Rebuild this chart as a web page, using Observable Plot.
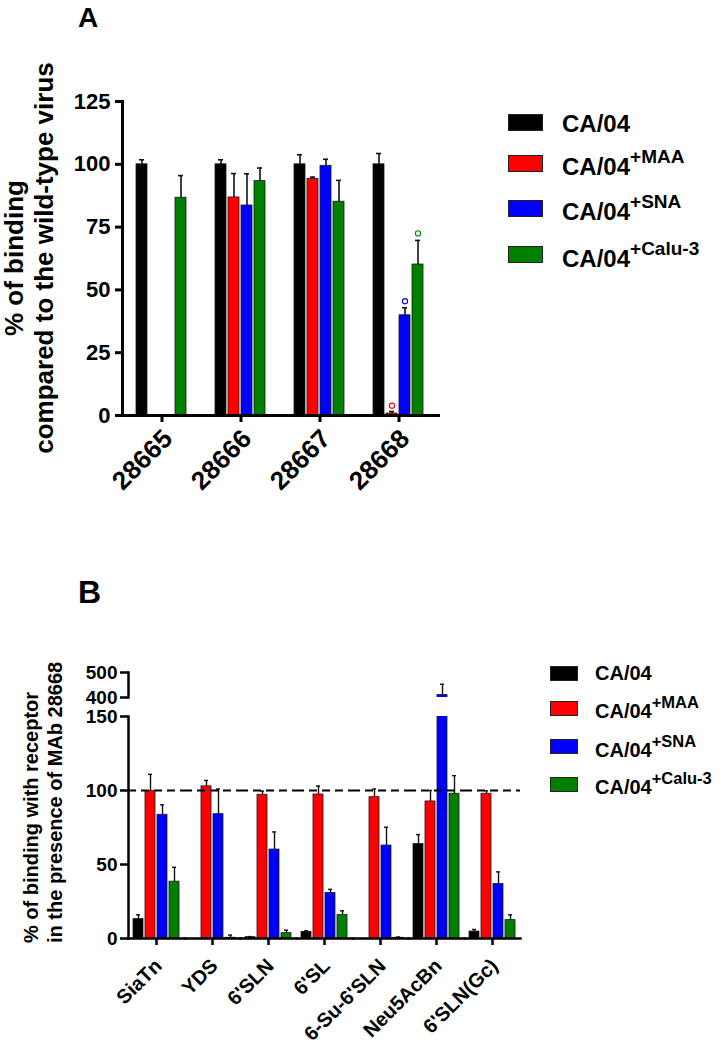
<!DOCTYPE html>
<html><head><meta charset="utf-8">
<script src="https://cdn.jsdelivr.net/npm/d3@7"></script>
<script src="https://cdn.jsdelivr.net/npm/@observablehq/plot@0.6"></script>
<style>
html,body{margin:0;padding:0;background:#fff;}
#fig{position:relative;width:721px;height:1047px;overflow:hidden;font-family:'Liberation Sans',Arial,sans-serif;font-weight:bold;color:#000;background:#fff;}
.letter{position:absolute;line-height:1;white-space:nowrap;}
.ytitle{position:absolute;transform-origin:0 0;transform:rotate(-90deg);white-space:nowrap;}
.sw{position:absolute;box-sizing:border-box;border:1px solid #222;}
.lt{position:absolute;white-space:nowrap;line-height:1;}
.lt sup{position:relative;vertical-align:baseline;}
</style></head>
<body><div id="fig"></div>
<script>
// ---------- shared ----------
const seriesNames = ["CA/04", "CA/04+MAA", "CA/04+SNA", "CA/04+Calu-3"];
const seriesBase = ["CA/04", "CA/04", "CA/04", "CA/04"];
const seriesSup = ["", "+MAA", "+SNA", "+Calu-3"];
const seriesColors = ["#000000", "#ff0000", "#0000ff", "#008000"];

// ---------- panel A ----------
const groupsA = ["28665", "28666", "28667", "28668"];
const ca04A      = [100, 100, 100, 100];
const ca04A_hi   = [101.8, 101.8, 103.8, 104.3];
const maaA       = [null, 86.8, 94.2, 0.8];
const maaA_hi    = [null, 96.3, 94.9, 1.6];
const snaA       = [null, 83.6, 99.4, 39.9];
const snaA_hi    = [null, 96.2, 102, 42.9];
const caluA      = [86.7, 93.3, 85.1, 60.1];
const caluA_hi   = [95.5, 98.5, 93.6, 69.7];
const yTicksA = [0, 25, 50, 75, 100, 125];
// significance markers (open circles)
const markGroupA  = ["28668", "28668", "28668"];
const markSeriesA = ["CA/04+MAA", "CA/04+SNA", "CA/04+Calu-3"];
const markValueA  = [3.9, 45.5, 72.5];

// ---------- panel B ----------
const groupsB = ["SiaTn", "YDS", "6'SLN", "6'SL", "6-Su-6'SLN", "Neu5AcBn", "6'SLN(Gc)"];
const ca04B     = [13.1, 0, 0.9, 4.5, 0, 63.9, 4.7];
const ca04B_hi  = [16, null, 1.3, 5.2, null, 70.2, 6.1];
const maaB      = [99.6, 102.8, 97.1, 97.3, 95.5, 92.6, 97.8];
const maaB_hi   = [110.9, 106.8, 99.6, 103, 101, 100, 99.8];
const snaB      = [83.6, 84, 60.1, 30.7, 62.8, 410, 36.8];
const snaB_hi   = [90.3, 101, 72, 33.2, 75.2, 453, 45];
const caluB     = [38.4, 0.5, 3.6, 16, 0.5, 97.8, 12.4];
const caluB_hi  = [48.1, 2.3, 5.6, 18.7, 1, 110, 16];
const yTicksBLow = [0, 50, 100, 150];
const yTicksBHigh = [400, 500];
const refLineB = [100];

function buildRows(groups, vals, his) {
  const out = [];
  groups.forEach((g, i) => seriesNames.forEach((s, j) => {
    const v = vals[j][i];
    if (v != null) out.push({group: g, series: s, value: v, hi: his[j][i]});
  }));
  return out;
}
const rowsA = buildRows(groupsA, [ca04A, maaA, snaA, caluA], [ca04A_hi, maaA_hi, snaA_hi, caluA_hi]);
const errA = rowsA.filter(d => d.hi != null);
const marksA = markGroupA.map((g, i) => ({group: g, series: markSeriesA[i], value: markValueA[i]}));
const rowsB = buildRows(groupsB, [ca04B, maaB, snaB, caluB], [ca04B_hi, maaB_hi, snaB_hi, caluB_hi]);
const errB = rowsB.filter(d => d.hi != null);

const FONT = "'Liberation Sans', Arial, sans-serif";
const colorScale = {domain: seriesNames, range: seriesColors};
const svgStyle = (fs) => ({fontFamily: FONT, fontWeight: "bold", fontSize: fs + "px", color: "#000", background: "transparent", overflow: "visible"});
const noText = () => "";

const plotA = Plot.plot({
  width: 460, height: 500,
  marginLeft: 122, marginRight: 22, marginTop: 101, marginBottom: 85,
  style: svgStyle(22),
  fx: {domain: groupsA, padding: 0, label: null, axis: null},
  x: {domain: seriesNames, paddingInner: 0.143, paddingOuter: 0.893, axis: null},
  y: {domain: [0, 125], axis: null},
  color: colorScale,
  marks: [
    Plot.barY(rowsA, {fx: "group", x: "series", y: "value", fill: "series", stroke: "#1a1a1a", strokeWidth: 0.8}),
    Plot.ruleX(errA, {fx: "group", x: "series", y1: "value", y2: "hi", stroke: "#111", strokeWidth: 1.6}),
    Plot.tickY(errA, {fx: "group", x: "series", y: "hi", stroke: "#111", strokeWidth: 1.6, inset: 3}),
    Plot.dot(marksA, {fx: "group", x: "series", y: "value", stroke: "series", fill: "white", r: 2.6, strokeWidth: 1.1}),
    Plot.frame({anchor: "bottom", strokeWidth: 3}),
    Plot.frame({anchor: "left", facetAnchor: "left", strokeWidth: 3}),
    Plot.axisY({ticks: yTicksA, tickSize: 7, tickPadding: 5, strokeWidth: 3, label: null, fontSize: 22}),
    Plot.axisFx({anchor: "bottom", tickSize: 7, strokeWidth: 3, label: null, tickFormat: noText}),
    Plot.axisFx({anchor: "bottom", tickSize: 0, tickRotate: -45, tickPadding: 11, label: null, fontSize: 26, dx: 6, dy: 8})
  ]
});

const commonB = {
  width: 560, marginLeft: 125, marginRight: 38,
  style: svgStyle(19),
  x: {domain: seriesNames, paddingInner: 0.154, paddingOuter: 0.257, axis: null},
  color: colorScale
};
const barMarksB = () => [
  Plot.barY(rowsB, {fx: "group", x: "series", y: "value", fill: "series", stroke: "#1a1a1a", strokeWidth: 0.8, clip: true}),
  Plot.ruleX(errB, {fx: "group", x: "series", y1: "value", y2: "hi", stroke: "#111", strokeWidth: 1.4, clip: true}),
  Plot.tickY(errB, {fx: "group", x: "series", y: "hi", stroke: "#111", strokeWidth: 1.4, inset: 3, clip: true})
];

const plotBHigh = Plot.plot({
  ...commonB, height: 40, marginTop: 12, marginBottom: 3,
  fx: {domain: groupsB, padding: 0, axis: null},
  y: {domain: [400, 500], axis: null},
  marks: [
    ...barMarksB(),
    Plot.frame({anchor: "left", facetAnchor: "left", strokeWidth: 2.5}),
    Plot.axisY({ticks: yTicksBHigh, tickSize: 8, tickPadding: 3, strokeWidth: 2.5, label: null, fontSize: 19})
  ]
});

const plotBLow = Plot.plot({
  ...commonB, height: 348, marginTop: 16, marginBottom: 110,
  fx: {domain: groupsB, padding: 0, label: null, axis: null},
  y: {domain: [0, 150], axis: null},
  marks: [
    ...barMarksB(),
    Plot.ruleY(refLineB, {stroke: "#000", strokeWidth: 2.2, strokeDasharray: "8,5"}),
    Plot.frame({anchor: "bottom", strokeWidth: 2.5}),
    Plot.frame({anchor: "left", facetAnchor: "left", strokeWidth: 2.5}),
    Plot.axisY({ticks: yTicksBLow, tickSize: 8, tickPadding: 3, strokeWidth: 2.5, label: null, fontSize: 19}),
    Plot.axisFx({anchor: "bottom", tickSize: 7, strokeWidth: 2.5, label: null, tickFormat: noText}),
    Plot.axisFx({anchor: "bottom", tickSize: 0, tickRotate: -45, tickPadding: 11, label: null, fontSize: 20, dx: 2, dy: 13})
  ]
});

const fig = document.getElementById("fig");
function place(node, left, top) {
  node.style.position = "absolute"; node.style.left = left + "px"; node.style.top = top + "px";
  fig.appendChild(node);
}
place(plotA, 0, 0);
place(plotBHigh, 0, 660);
place(plotBLow, 0, 700);

function addDiv(cls, css, html) {
  const d = document.createElement("div");
  d.className = cls; d.style.cssText = css; d.innerHTML = html; fig.appendChild(d); return d;
}
// panel letters
addDiv("letter", "left:78px;top:4px;font-size:28px;", "A");
addDiv("letter", "left:78px;top:576px;font-size:32px;", "B");
// axis titles
addDiv("ytitle", "left:-1px;top:468px;width:420px;text-align:center;font-size:26px;line-height:30px;",
  "% of binding<br>compared to the wild-type virus");
addDiv("ytitle", "left:19px;top:943px;width:330px;text-align:left;font-size:20px;line-height:24px;",
  "% of binding with receptor<br>in the presence of MAb 28668");

// legends
function legend(cfg) {
  seriesNames.forEach((s, i) => {
    const sw = document.createElement("div");
    sw.className = "sw";
    sw.style.cssText = `left:${cfg.swX}px;top:${cfg.swTop[i]}px;width:${cfg.swW}px;height:${cfg.swH}px;background:${seriesColors[i]};`;
    fig.appendChild(sw);
    const t = document.createElement("div");
    t.className = "lt";
    t.style.cssText = `left:${cfg.tx}px;top:${cfg.tTop[i]}px;font-size:${cfg.fs}px;`;
    t.innerHTML = seriesBase[i] + (seriesSup[i] ? `<sup style="font-size:${cfg.sfs}px;top:-${cfg.raise}px">${seriesSup[i]}</sup>` : "");
    fig.appendChild(t);
  });
}
legend({swX: 508, swW: 35, swH: 17, swTop: [114, 155, 200, 246], tx: 562, tTop: [112, 155, 200, 247], fs: 24, sfs: 19, raise: 12});
legend({swX: 550, swW: 28, swH: 15, swTop: [666, 701, 739, 777], tx: 595, tTop: [663, 701, 740, 777], fs: 20, sfs: 16.5, raise: 10});
</script></body></html>
